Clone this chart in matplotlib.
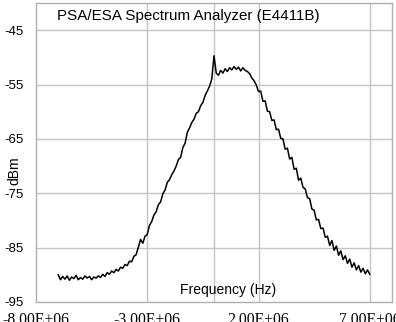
import numpy as np
import matplotlib
matplotlib.use("Agg")
import matplotlib.pyplot as plt

# Frequency in MHz (0.1 MHz steps from -7.0 to 7.0)
freq_start_mhz = -7.0
freq_step_mhz = 0.1
dbm_values = [
    -90.0, -90.9, -90.3, -90.8, -90.2, -91.0, -90.4, -90.7, -90.1, -90.9,
    -90.5, -90.8, -90.2, -90.6, -90.3, -90.9, -90.4, -90.6, -90.2, -90.5,
    -89.9, -90.3, -89.6, -89.9, -89.3, -89.6, -89.0, -89.3, -88.6, -88.8,
    -88.1, -88.3, -87.5, -87.6, -86.6, -86.3, -84.9, -83.5, -84.2, -82.9,
    -82.6, -80.9, -80.2, -79.0, -78.4, -77.1, -76.6, -75.1, -74.4, -73.0,
    -72.5, -71.6, -70.9, -70.0, -68.8, -68.4, -66.6, -65.8, -63.8, -63.0,
    -62.0, -61.4, -60.3, -60.0, -58.9, -58.3, -57.0, -56.2, -55.3, -54.0,
    -49.7, -52.9, -53.3, -52.4, -52.9, -52.1, -52.6, -51.9, -52.3, -51.7,
    -52.2, -51.8, -52.5, -51.9, -52.4, -52.6, -53.0, -53.8, -54.3, -55.1,
    -56.3, -56.2, -58.1, -58.0, -59.9, -60.0, -61.6, -61.5, -63.3, -63.2,
    -64.9, -65.0, -66.9, -66.7, -68.7, -68.4, -70.6, -70.4, -72.6, -72.2,
    -73.9, -74.2, -75.8, -76.0, -77.9, -78.1, -79.9, -79.8, -81.5, -81.4,
    -83.1, -82.9, -84.6, -83.7, -85.5, -84.7, -86.4, -85.6, -87.2, -86.5,
    -87.9, -87.1, -88.6, -87.8, -89.1, -88.3, -89.5, -88.8, -89.8, -89.1,
    -89.9,
]
freq_hz = (freq_start_mhz + freq_step_mhz * np.arange(len(dbm_values))) * 1e6

x_ticks = [-8e6, -3e6, 2e6, 7e6]
x_tick_labels = ["-8.00E+06", "-3.00E+06", "2.00E+06", "7.00E+06"]
y_ticks = [-95, -85, -75, -65, -55, -45]
y_tick_labels = ["-95", "-85", "-75", "-65", "-55", "-45"]
v_grid = [-3e6, 0, 2e6, 7e6]
h_grid = [-85, -75, -65, -55, -45]

W, H = 396, 322
fig = plt.figure(figsize=(W / 100, H / 100), dpi=100)
ax = fig.add_axes([36 / W, 20 / H, 356 / W, 299 / H])

grid_c = "#c4c4c4"
for v in v_grid:
    ax.axvline(v, color=grid_c, lw=1.0, zorder=1)
for h in h_grid:
    ax.axhline(h, color=grid_c, lw=1.0, zorder=1)

ax.plot(freq_hz, dbm_values, color="black", lw=1.1, zorder=3)

ax.set_xlim(-8e6, 8e6)
ax.set_ylim(-95, -40)
ax.set_xticks(x_ticks)
ax.set_xticklabels(x_tick_labels, fontfamily="Liberation Serif", fontsize=11.3)
ax.set_yticks(y_ticks)
ax.set_yticklabels(y_tick_labels, fontfamily="Liberation Sans", fontsize=9.5)
ax.tick_params(axis="x", length=0, pad=7)
ax.tick_params(axis="y", length=0, pad=9)
for s in ax.spines.values():
    s.set_color("#b0b0b0")
    s.set_linewidth(1.0)

ax.text((188.5 - 36) / 356, (302 - 16) / 299, "PSA/ESA Spectrum Analyzer (E4411B)",
        transform=ax.transAxes, ha="center", va="center",
        fontfamily="Liberation Sans", fontsize=10.9)
ax.text((228 - 36) / 356, (302 - 290) / 299, "Frequency (Hz)",
        transform=ax.transAxes, ha="center", va="center",
        fontfamily="Liberation Sans", fontsize=10)
fig.text(14 / W, 1 - 171 / H, "dBm", rotation=90, ha="center", va="center",
         fontfamily="Liberation Sans", fontsize=10)

fig.savefig("out.png", dpi=100)
